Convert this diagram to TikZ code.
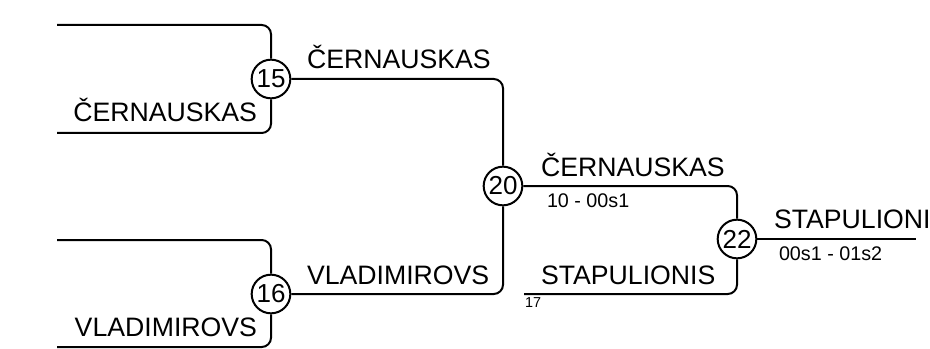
\documentclass[tikz,border=0pt]{standalone}
\usepackage{fontspec}
\setmainfont{Liberation Sans}

\begin{document}
\begin{tikzpicture}[x=0.75pt,y=-0.75pt,line width=1.5pt,
  match/.style={circle,draw,line width=1.5pt,inner sep=0pt,minimum size=29pt,fill=white,font=\fontsize{19.5}{22}\selectfont},
  player/.style={inner sep=0pt,font=\fontsize{20}{23}\selectfont},
  score/.style={inner sep=0pt,font=\fontsize{14.8}{17}\selectfont},
  wire/.style={line width=1.5pt,rounded corners=7pt}]
\useasboundingbox (0,0) rectangle (930,349);

\node[match] (m15) at (271,79) {15};
\node[match] (m16) at (271,294) {16};
\node[match] (m20) at (503,186) {20};
\node[match] (m22) at (737,239) {22};

\coordinate (e1) at (57,25);
\coordinate (e2) at (57,133);
\coordinate (e3) at (57,240);
\coordinate (e4) at (57,347);
\coordinate (e5) at (524,294);
\coordinate (e6) at (916,239);

\draw[wire] (e1) -| (m15.north);
\draw[wire] (e2) -| (m15.south);
\draw[wire] (e3) -| (m16.north);
\draw[wire] (e4) -| (m16.south);
\draw[wire] (m15.east) -| (m20.north);
\draw[wire] (m16.east) -| (m20.south);
\draw[wire] (m20.east) -| (m22.north);
\draw[wire] (e5) -| (m22.south);
\draw[wire] (m22.east) -- (e6);

\node[player,anchor=base east] (p15b) at (258,122) {ČERNAUSKAS};
\node[player,anchor=base east] (p16b) at (258,336) {VLADIMIROVS};
\node[player,anchor=base west] (w15) at (306,69) {ČERNAUSKAS};
\node[player,anchor=base west] (w16) at (306,284) {VLADIMIROVS};
\node[player,anchor=base west] (w20) at (540,176) {ČERNAUSKAS};
\node[player,anchor=base west] (w17) at (540,284) {STAPULIONIS};
\node[player,anchor=base west] (w22) at (773,228) {STAPULIONI};

\node[score,anchor=base west] (s20) at (546,207) {10 - 00s1};
\node[score,anchor=base west] (s22) at (778,260) {00s1 - 01s2};
\node[inner sep=0pt,anchor=base west,font=\fontsize{10.8}{12}\selectfont] (s17) at (524,307) {17};
\end{tikzpicture}
\end{document}
